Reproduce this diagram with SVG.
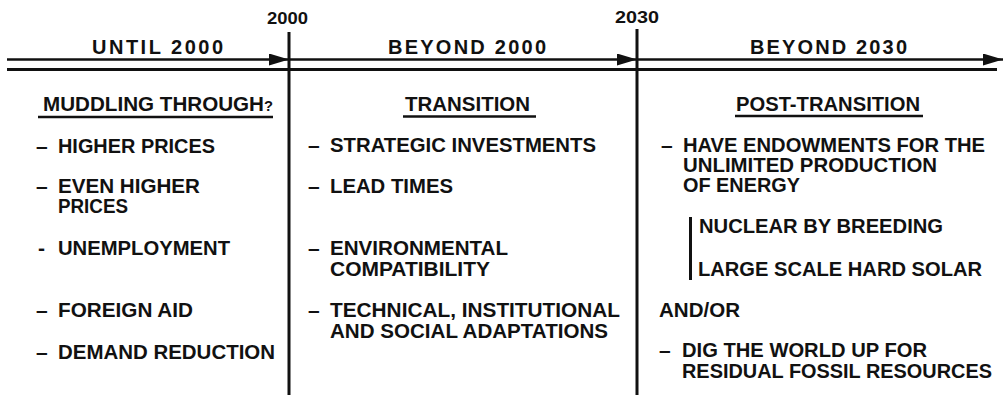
<svg xmlns="http://www.w3.org/2000/svg" width="1008" height="400" viewBox="0 0 1008 400">
  <defs>
    <marker id="arrow" markerUnits="userSpaceOnUse" markerWidth="20" markerHeight="12" refX="20" refY="6" orient="auto">
      <path d="M0,0 L20,6 L0,12 Z" fill="#111"/>
    </marker>
    <style>
      text { font-family: "Liberation Sans", Arial, sans-serif; font-weight: bold; fill: #111; }
      .year { font-size: 17px; }
      .head { font-size: 20px; }
      .item { font-size: 21px; }
      .title { font-size: 21px; }
      .rule { stroke: #111; stroke-width: 2.5; fill: none; }
      .axis { stroke: #111; stroke-width: 3; fill: none; }
    </style>
  </defs>
  <rect width="1008" height="400" fill="#ffffff"/>

  <!-- timeline rails and period dividers -->
  <g id="connectors">
    <path class="rule" d="M7,59.5 H289" marker-end="url(#arrow)"/>
    <path class="rule" d="M289,59.5 H637" marker-end="url(#arrow)"/>
    <path class="rule" d="M637,59.5 H1003" marker-end="url(#arrow)"/>
    <path class="axis" d="M7,69.5 H997"/>
    <path class="axis" d="M289,32 V395"/>
    <path class="axis" d="M637,29 V395"/>
  </g>

  <!-- year marks -->
  <g id="year-2000">
    <text class="year" x="267" y="24" textLength="41" lengthAdjust="spacingAndGlyphs">2000</text>
  </g>
  <g id="year-2030">
    <text class="year" x="615" y="23" textLength="44" lengthAdjust="spacingAndGlyphs">2030</text>
  </g>

  <!-- period 1 -->
  <g id="until-2000">
    <text class="head" x="92" y="54" textLength="131" lengthAdjust="spacing">UNTIL 2000</text>
    <text class="title" x="43" y="111" textLength="230" lengthAdjust="spacingAndGlyphs">MUDDLING THROUGH<tspan font-size="15">?</tspan></text>
    <path class="rule" d="M38,117 H273" stroke-width="2"/>
    <text class="item" x="36" y="153">–</text>
    <text class="item" x="58" y="153" textLength="157" lengthAdjust="spacingAndGlyphs">HIGHER PRICES</text>
    <text class="item" x="36" y="193">–</text>
    <text class="item" x="58" y="193" textLength="142" lengthAdjust="spacingAndGlyphs">EVEN HIGHER</text>
    <text class="item" x="58" y="213" textLength="70" lengthAdjust="spacingAndGlyphs">PRICES</text>
    <text class="item" x="38" y="255" font-size="17">-</text>
    <text class="item" x="58" y="255" textLength="172" lengthAdjust="spacingAndGlyphs">UNEMPLOYMENT</text>
    <text class="item" x="36" y="317">–</text>
    <text class="item" x="58" y="317" textLength="135" lengthAdjust="spacingAndGlyphs">FOREIGN AID</text>
    <text class="item" x="36" y="359">–</text>
    <text class="item" x="58" y="359" textLength="217" lengthAdjust="spacingAndGlyphs">DEMAND REDUCTION</text>
  </g>

  <!-- period 2 -->
  <g id="beyond-2000">
    <text class="head" x="388" y="54" textLength="158" lengthAdjust="spacing">BEYOND 2000</text>
    <text class="title" x="405" y="111" textLength="125" lengthAdjust="spacingAndGlyphs">TRANSITION</text>
    <path class="rule" d="M403,116.5 H536" stroke-width="2"/>
    <text class="item" x="308" y="152">–</text>
    <text class="item" x="330" y="152" textLength="266" lengthAdjust="spacingAndGlyphs">STRATEGIC INVESTMENTS</text>
    <text class="item" x="308" y="193">–</text>
    <text class="item" x="330" y="193" textLength="123" lengthAdjust="spacingAndGlyphs">LEAD TIMES</text>
    <text class="item" x="308" y="255">–</text>
    <text class="item" x="330" y="255" textLength="178" lengthAdjust="spacingAndGlyphs">ENVIRONMENTAL</text>
    <text class="item" x="330" y="276" textLength="160" lengthAdjust="spacingAndGlyphs">COMPATIBILITY</text>
    <text class="item" x="308" y="317">–</text>
    <text class="item" x="330" y="317" textLength="290" lengthAdjust="spacingAndGlyphs">TECHNICAL, INSTITUTIONAL</text>
    <text class="item" x="330" y="338" textLength="278" lengthAdjust="spacingAndGlyphs">AND SOCIAL ADAPTATIONS</text>
  </g>

  <!-- period 3 -->
  <g id="beyond-2030">
    <text class="head" x="750" y="54" textLength="157" lengthAdjust="spacing">BEYOND 2030</text>
    <text class="title" x="736" y="111" textLength="184" lengthAdjust="spacingAndGlyphs">POST-TRANSITION</text>
    <path class="rule" d="M735,116 H923" stroke-width="2"/>
    <text class="item" x="661" y="152">–</text>
    <text class="item" x="683" y="152" textLength="302" lengthAdjust="spacingAndGlyphs">HAVE ENDOWMENTS FOR THE</text>
    <text class="item" x="683" y="172" textLength="254" lengthAdjust="spacingAndGlyphs">UNLIMITED PRODUCTION</text>
    <text class="item" x="683" y="192" textLength="117" lengthAdjust="spacingAndGlyphs">OF ENERGY</text>
    <path class="axis" d="M690.5,217 V280"/>
    <text class="item" x="699" y="233" textLength="244" lengthAdjust="spacingAndGlyphs">NUCLEAR BY BREEDING</text>
    <text class="item" x="698" y="276" textLength="284" lengthAdjust="spacingAndGlyphs">LARGE SCALE HARD SOLAR</text>
    <text class="item" x="659" y="317" textLength="81" lengthAdjust="spacingAndGlyphs">AND/OR</text>
    <text class="item" x="659" y="357">–</text>
    <text class="item" x="682" y="357" textLength="245" lengthAdjust="spacingAndGlyphs">DIG THE WORLD UP FOR</text>
    <text class="item" x="682" y="378" textLength="310" lengthAdjust="spacingAndGlyphs">RESIDUAL FOSSIL RESOURCES</text>
  </g>
</svg>
